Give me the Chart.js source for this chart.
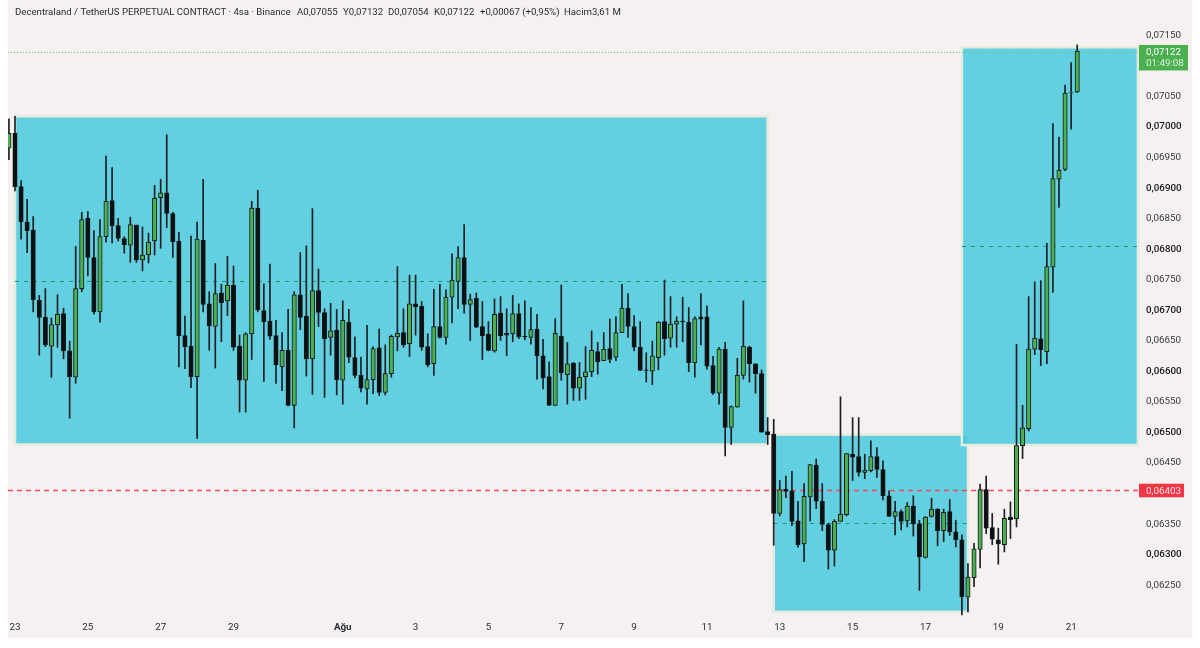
<!DOCTYPE html>
<html>
<head>
<meta charset="utf-8">
<title>Decentraland / TetherUS</title>
<script src="https://cdn.jsdelivr.net/npm/chart.js@4"></script>
<style>
  html, body { margin: 0; padding: 0; background: #fff; }
  canvas { display: block; }
</style>
</head>
<body>
<canvas id="grafico" width="1200" height="648"></canvas>
<script>
// 4h candles, the first one is index -1 (cut by the left edge)
var opens = [
  0.06963,0.06987,0.06900,0.06842,0.06829,0.06714,0.06686,0.06639,0.06674,0.06692,0.06631,0.06588,0.06733,0.06848,0.06784,0.06695,0.06818,0.06877,0.06836,0.06815,
  0.06804,0.06837,0.06780,0.06788,0.06811,0.06882,0.06890,0.06856,0.06811,0.06656,0.06639,0.06589,0.06812,0.06708,0.06671,0.06726,0.06713,0.06739,0.06639,0.06583,
  0.06659,0.06865,0.06697,0.06680,0.06656,0.06605,0.06632,0.06542,0.06723,0.06688,0.06618,0.06730,0.06694,0.06653,0.06665,0.06583,0.06678,0.06620,0.06591,0.06569,
  0.06584,0.06636,0.06563,0.06594,0.06654,0.06661,0.06643,0.06708,0.06704,0.06638,0.06610,0.06671,0.06653,0.06719,0.06745,0.06784,0.06707,0.06717,0.06671,0.06658,
  0.06631,0.06693,0.06660,0.06659,0.06692,0.06655,0.06653,0.06667,0.06623,0.06589,0.06542,0.06655,0.06592,0.06611,0.06570,0.06589,0.06597,0.06630,0.06615,0.06635,
  0.06621,0.06661,0.06701,0.06671,0.06637,0.06600,0.06598,0.06620,0.06679,0.06652,0.06675,0.06680,0.06678,0.06612,0.06687,0.06687,0.06607,0.06562,0.06634,0.06506,
  0.06539,0.06591,0.06637,0.06610,0.06594,0.06499,0.06495,0.06365,0.06405,0.06402,0.06353,0.06315,0.06392,0.06444,0.06385,0.06347,0.06305,0.06352,0.06363,0.06462,
  0.06458,0.06432,0.06435,0.06458,0.06437,0.06394,0.06360,0.06368,0.06353,0.06377,0.06348,0.06293,0.06360,0.06372,0.06337,0.06368,0.06335,0.06322,0.06228,0.06260,
  0.06306,0.06404,0.06342,0.06322,0.06314,0.06359,0.06356,0.06476,0.06504,0.06634,0.06651,0.06630,0.06768,0.06912,0.06928,0.07053,0.07055
];
var closes = [
  0.06987,0.06900,0.06842,0.06828,0.06715,0.06686,0.06641,0.06674,0.06691,0.06631,0.06589,0.06733,0.06846,0.06784,0.06695,0.06818,0.06876,0.06836,0.06815,0.06805,
  0.06838,0.06780,0.06788,0.06809,0.06881,0.06890,0.06856,0.06810,0.06656,0.06638,0.06589,0.06814,0.06707,0.06672,0.06725,0.06710,0.06739,0.06637,0.06583,0.06659,
  0.06865,0.06698,0.06679,0.06655,0.06608,0.06632,0.06542,0.06723,0.06686,0.06618,0.06730,0.06694,0.06651,0.06664,0.06584,0.06681,0.06621,0.06591,0.06570,0.06584,
  0.06635,0.06563,0.06594,0.06655,0.06660,0.06641,0.06708,0.06703,0.06637,0.06608,0.06671,0.06653,0.06719,0.06747,0.06784,0.06707,0.06715,0.06670,0.06656,0.06632,
  0.06691,0.06656,0.06657,0.06692,0.06654,0.06654,0.06666,0.06623,0.06587,0.06542,0.06660,0.06595,0.06610,0.06570,0.06588,0.06597,0.06632,0.06613,0.06634,0.06617,
  0.06661,0.06701,0.06671,0.06637,0.06599,0.06599,0.06623,0.06678,0.06651,0.06675,0.06680,0.06679,0.06612,0.06684,0.06683,0.06606,0.06562,0.06634,0.06506,0.06540,
  0.06591,0.06639,0.06610,0.06594,0.06498,0.06494,0.06365,0.06404,0.06401,0.06352,0.06314,0.06393,0.06445,0.06385,0.06347,0.06305,0.06352,0.06364,0.06463,0.06457,
  0.06432,0.06436,0.06458,0.06437,0.06394,0.06360,0.06368,0.06352,0.06377,0.06348,0.06294,0.06359,0.06372,0.06337,0.06367,0.06335,0.06322,0.06229,0.06261,0.06307,
  0.06404,0.06341,0.06323,0.06315,0.06357,0.06355,0.06476,0.06505,0.06634,0.06652,0.06633,0.06769,0.06913,0.06927,0.07053,0.07054,0.07122
];
var highs = [
  0.07011,0.07015,0.06910,0.06879,0.06851,0.06722,0.06733,0.06685,0.06723,0.06701,0.06647,0.06802,0.06858,0.06859,0.06828,0.06846,0.06950,0.06931,0.06848,0.06818,
  0.06850,0.06837,0.06834,0.06824,0.06902,0.06912,0.06985,0.06858,0.06825,0.06688,0.06819,0.06842,0.06912,0.06728,0.06774,0.06740,0.06786,0.06770,0.06657,0.06661,
  0.06876,0.06894,0.06741,0.06773,0.06681,0.06661,0.06699,0.06728,0.06792,0.06803,0.06864,0.06765,0.06700,0.06709,0.06699,0.06713,0.06699,0.06654,0.06621,0.06673,
  0.06638,0.06667,0.06641,0.06657,0.06769,0.06700,0.06755,0.06755,0.06712,0.06659,0.06732,0.06740,0.06731,0.06790,0.06802,0.06838,0.06724,0.06726,0.06712,0.06679,
  0.06716,0.06720,0.06700,0.06722,0.06708,0.06713,0.06702,0.06691,0.06650,0.06613,0.06684,0.06739,0.06645,0.06612,0.06612,0.06638,0.06664,0.06645,0.06661,0.06683,
  0.06687,0.06740,0.06725,0.06689,0.06679,0.06628,0.06647,0.06679,0.06747,0.06720,0.06687,0.06719,0.06702,0.06687,0.06725,0.06705,0.06622,0.06637,0.06645,0.06541,
  0.06619,0.06713,0.06639,0.06610,0.06600,0.06522,0.06519,0.06419,0.06426,0.06434,0.06385,0.06414,0.06445,0.06454,0.06414,0.06349,0.06355,0.06556,0.06463,0.06522,
  0.06522,0.06462,0.06484,0.06473,0.06451,0.06402,0.06385,0.06371,0.06383,0.06394,0.06354,0.06360,0.06390,0.06373,0.06372,0.06388,0.06354,0.06330,0.06283,0.06316,
  0.06413,0.06426,0.06365,0.06341,0.06372,0.06384,0.06642,0.06542,0.06720,0.06744,0.06746,0.06807,0.07003,0.06981,0.07066,0.07103,0.07132
];
var lows = [
  0.06944,0.06893,0.06814,0.06792,0.06695,0.06624,0.06638,0.06588,0.06637,0.06618,0.06521,0.06578,0.06728,0.06754,0.06691,0.06678,0.06809,0.06808,0.06811,0.06791,
  0.06776,0.06776,0.06762,0.06775,0.06788,0.06799,0.06833,0.06784,0.06605,0.06602,0.06571,0.06488,0.06695,0.06632,0.06603,0.06646,0.06689,0.06632,0.06531,0.06531,
  0.06617,0.06695,0.06581,0.06650,0.06578,0.06566,0.06541,0.06505,0.06666,0.06590,0.06560,0.06671,0.06555,0.06624,0.06559,0.06544,0.06612,0.06587,0.06564,0.06544,
  0.06561,0.06558,0.06559,0.06588,0.06631,0.06637,0.06622,0.06657,0.06632,0.06605,0.06591,0.06652,0.06642,0.06677,0.06700,0.06693,0.06648,0.06669,0.06617,0.06631,
  0.06629,0.06648,0.06623,0.06646,0.06651,0.06649,0.06642,0.06585,0.06569,0.06542,0.06542,0.06583,0.06544,0.06550,0.06550,0.06552,0.06589,0.06593,0.06615,0.06612,
  0.06615,0.06661,0.06653,0.06631,0.06599,0.06580,0.06576,0.06600,0.06624,0.06637,0.06637,0.06646,0.06597,0.06588,0.06641,0.06601,0.06560,0.06544,0.06459,0.06478,
  0.06539,0.06585,0.06580,0.06562,0.06498,0.06478,0.06313,0.06361,0.06391,0.06345,0.06310,0.06286,0.06353,0.06373,0.06337,0.06274,0.06279,0.06352,0.06361,0.06419,
  0.06426,0.06422,0.06433,0.06424,0.06387,0.06360,0.06330,0.06338,0.06343,0.06328,0.06239,0.06292,0.06359,0.06312,0.06319,0.06329,0.06310,0.06199,0.06204,0.06245,
  0.06276,0.06332,0.06314,0.06282,0.06302,0.06324,0.06343,0.06455,0.06500,0.06625,0.06607,0.06610,0.06727,0.06866,0.06926,0.06994,0.07054
];
var firstIndex = -1;

var dayTicks = [0, 12, 24, 36, 54, 66, 78, 90, 102, 114, 126, 138, 150, 162, 174];
var dayLabels = ["23", "25", "27", "29", "Ağu", "3", "5", "7", "9", "11", "13", "15", "17", "19", "21"];
var priceTicks = [0.0715, 0.0705, 0.0700, 0.0695, 0.0690, 0.0685, 0.0680, 0.0675, 0.0670, 0.0665, 0.0660, 0.0655, 0.0650, 0.0645, 0.0635, 0.0630, 0.0625];

// rectangles drawn on the chart
var boxFrom = [0, 125, 156];
var boxTo = [124, 157, 185];
var boxTop = [0.07015, 0.06494, 0.07128];
var boxBottom = [0.06478, 0.06204, 0.06477];
var boxMid = [0.06746, 0.06349, 0.06803];

var lastPrice = 0.07122;
var lastPriceText = "0,07122";
var countdownText = "01:49:08";
var redPrice = 0.06403;
var redPriceText = "0,06403";
var tituloTextos = ["Decentraland / TetherUS PERPETUAL CONTRACT · 4sa · Binance", "A0,07055", "Y0,07132", "D0,07054", "K0,07122", "+0,00067 (+0,95%)", "Hacim3,61 M"];
var tituloX = [15, 297, 343, 388, 434, 480, 564];

var fuente = "Roboto, sans-serif";
var tamano = 9.8;
var fondo = "#f4f1f0";

function precioTexto(v) {
  return v.toFixed(5).replace(".", ",");
}

var wicks = [];
var bodies = [];
var bodyColors = [];
opens.forEach(function (o, i) {
  var c = closes[i];
  wicks.push({ x: i + firstIndex, y: [lows[i], highs[i]] });
  bodies.push({ x: i + firstIndex, y: [Math.min(o, c), Math.max(o, c)] });
  bodyColors.push(c >= o ? "#4caf50" : "#0e0f10");
});

var dibujoFondo = {
  id: "dibujoFondo",
  beforeDraw: function (chart) {
    var ctx = chart.ctx;
    ctx.save();
    ctx.fillStyle = "#ffffff";
    ctx.fillRect(0, 0, 1200, 648);
    ctx.fillStyle = fondo;
    ctx.fillRect(8, 0, 1184, 638);
    ctx.restore();
  },
  beforeDatasetsDraw: function (chart) {
    var ctx = chart.ctx;
    var xs = chart.scales.x;
    var ys = chart.scales.y;
    var area = chart.chartArea;
    ctx.save();
    boxFrom.forEach(function (desde, i) {
      var x1 = xs.getPixelForValue(desde);
      var x2 = xs.getPixelForValue(boxTo[i]);
      var y1 = ys.getPixelForValue(boxTop[i]);
      var y2 = ys.getPixelForValue(boxBottom[i]);
      ctx.fillStyle = "rgba(61,200,221,0.8)";
      ctx.fillRect(x1, y1, x2 - x1, y2 - y1);
      ctx.strokeStyle = "#e6ebdf";
      ctx.lineWidth = 2.5;
      ctx.setLineDash([]);
      ctx.strokeRect(x1, y1, x2 - x1, y2 - y1);
      var ym = Math.round(ys.getPixelForValue(boxMid[i])) + 0.5;
      ctx.strokeStyle = "#0c9e76";
      ctx.lineWidth = 1.2;
      ctx.setLineDash([4, 5]);
      ctx.beginPath();
      ctx.moveTo(x1, ym);
      ctx.lineTo(x2, ym);
      ctx.stroke();
    });
    var yRojo = Math.round(ys.getPixelForValue(redPrice)) + 0.5;
    ctx.strokeStyle = "#fb4a60";
    ctx.lineWidth = 1.4;
    ctx.setLineDash([5, 4]);
    ctx.beginPath();
    ctx.moveTo(area.left, yRojo);
    ctx.lineTo(area.right, yRojo);
    ctx.stroke();
    var yVerde = Math.round(ys.getPixelForValue(lastPrice)) + 1.5;
    ctx.strokeStyle = "#5ccb72";
    ctx.lineWidth = 1;
    ctx.setLineDash([1, 2]);
    ctx.beginPath();
    ctx.moveTo(area.left, yVerde);
    ctx.lineTo(area.right, yVerde);
    ctx.stroke();
    ctx.restore();
  },
  afterDraw: function (chart) {
    var ctx = chart.ctx;
    var ys = chart.scales.y;
    ctx.save();
    ctx.textBaseline = "middle";
    ctx.textAlign = "left";
    ctx.fillStyle = "#2b2e35";
    ctx.font = "9.65px " + fuente;
    tituloTextos.forEach(function (t, i) {
      ctx.fillText(t, tituloX[i], 12.5);
    });

    var yVerde = ys.getPixelForValue(lastPrice);
    ctx.fillStyle = "#4caf50";
    ctx.fillRect(1139, yVerde - 6, 49, 25.5);
    ctx.fillStyle = "#ffffff";
    ctx.font = tamano + "px " + fuente;
    ctx.fillText(lastPriceText, 1146, yVerde + 1.5);
    ctx.fillStyle = "#dcf2dd";
    ctx.font = tamano + "px " + fuente;
    ctx.fillText(countdownText, 1146, yVerde + 13);

    var yRojo = ys.getPixelForValue(redPrice);
    ctx.fillStyle = "#f23645";
    ctx.fillRect(1139, yRojo - 6.5, 45, 13.5);
    ctx.fillStyle = "#ffe6e8";
    ctx.font = tamano + "px " + fuente;
    ctx.fillText(redPriceText, 1146, yRojo + 1.5);
    ctx.restore();
  }
};

new Chart(document.getElementById("grafico"), {
  type: "bar",
  plugins: [dibujoFondo],
  data: {
    datasets: [
      {
        label: "Cuerpos",
        data: bodies,
        order: 1,
        grouped: false,
        barThickness: 4.4,
        backgroundColor: bodyColors,
        borderColor: "#17191a",
        borderWidth: 1,
        borderSkipped: false,
      },
      {
        label: "Mechas",
        data: wicks,
        order: 2,
        grouped: false,
        barThickness: 1,
        backgroundColor: "#1c1e20",
        borderWidth: 0,
      },
    ],
  },
  options: {
    responsive: false,
    animation: false,
    devicePixelRatio: 1,
    layout: { padding: { left: 8, right: 8, top: 0, bottom: 10 } },
    plugins: { legend: { display: false }, title: { display: false }, tooltip: { enabled: false } },
    scales: {
      x: {
        type: "linear",
        offset: false,
        min: -1.153,
        max: 185.18,
        grid: { display: false, drawTicks: false, offset: false },
        border: { display: false },
        afterBuildTicks: function (scale) {
          scale.ticks = dayTicks.map(function (v) {
            return { value: v };
          });
        },
        afterFit: function (scale) {
          scale.height = 22;
          scale.paddingLeft = 0;
          scale.paddingRight = 0;
        },
        ticks: {
          autoSkip: false,
          maxRotation: 0,
          padding: 6,
          color: "#2b2e35",
          font: function (c) {
            var esMes = c.tick && dayLabels[dayTicks.indexOf(c.tick.value)] == "Ağu";
            return { family: fuente, size: tamano, weight: esMes ? "bold" : "normal" };
          },
          callback: function (v) {
            return dayLabels[dayTicks.indexOf(v)];
          },
        },
      },
      y: {
        type: "linear",
        position: "right",
        min: 0.0619719,
        max: 0.07205406,
        grid: { display: false, drawTicks: false },
        border: { display: false },
        afterBuildTicks: function (scale) {
          scale.ticks = priceTicks.map(function (v) {
            return { value: v };
          });
        },
        afterFit: function (scale) {
          scale.width = 53;
          scale.paddingTop = 0;
          scale.paddingBottom = 0;
        },
        ticks: {
          padding: 7,
          labelOffset: 1.5,
          color: function (c) {
            return c.tick && Math.round(c.tick.value * 100000) % 100 == 0 ? "#16181c" : "#383b42";
          },
          font: function (c) {
            var par = c.tick && Math.round(c.tick.value * 100000) % 100 == 0;
            return { family: fuente, size: tamano, weight: par ? "500" : "normal" };
          },
          callback: function (v) {
            return precioTexto(v);
          },
        },
      },
    },
  },
});
</script>
</body>
</html>
